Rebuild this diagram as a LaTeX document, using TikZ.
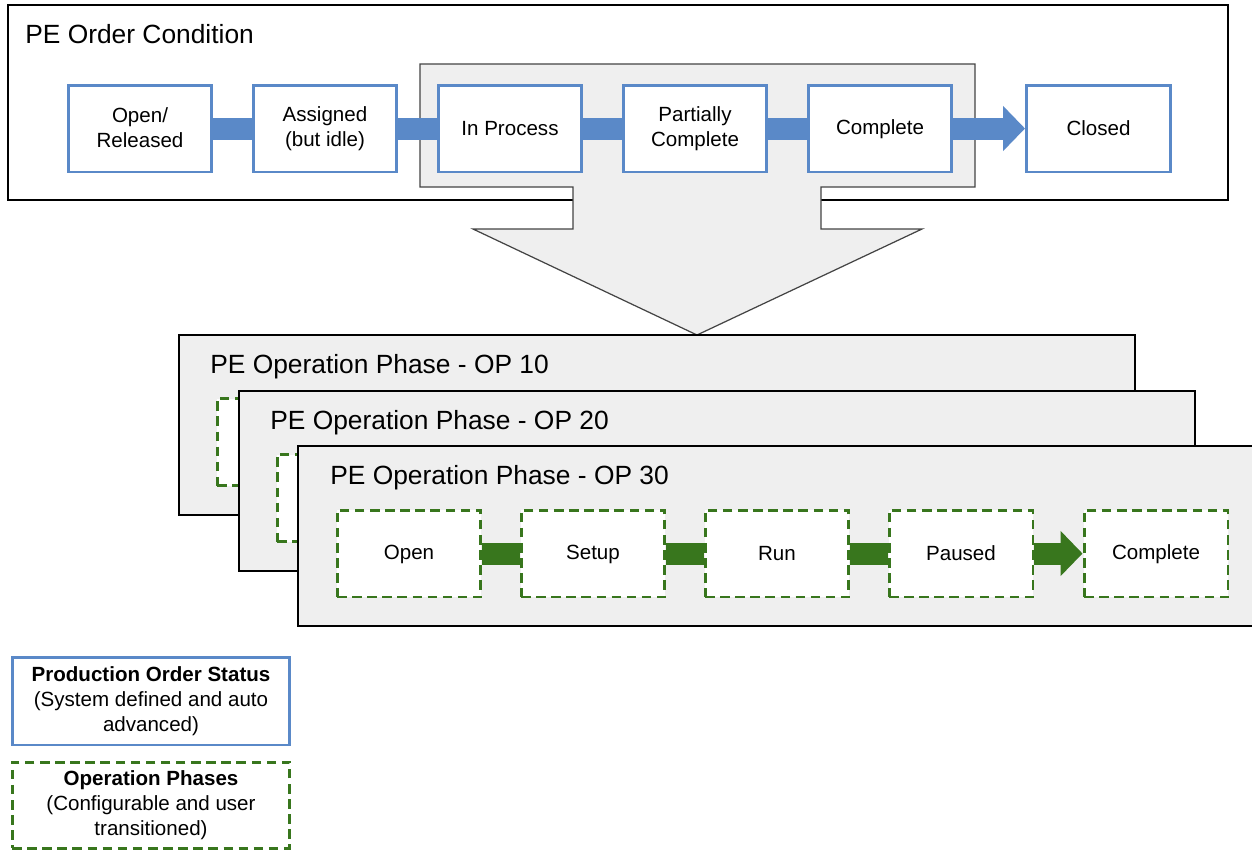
\documentclass[tikz,border=0pt]{standalone}
\usepackage{fontspec}
\setmainfont{Liberation Sans}
\usetikzlibrary{arrows.meta}
\definecolor{orderblue}{HTML}{5A89C8}
\definecolor{phasegreen}{HTML}{38761D}
\definecolor{framegray}{HTML}{EFEFEF}
\definecolor{edgegray}{HTML}{444444}
\newcommand{\boxstrut}{\rule[-0.6pt]{0pt}{9.6pt}}

\begin{document}
\begin{tikzpicture}[x=0.02cm, y=-0.02cm,
    statusbox/.style={draw=orderblue, line width=1.7pt, fill=white, inner sep=0pt,
      minimum width=2.88cm, minimum height=1.74cm, align=center,
      font=\fontsize{11.7}{14.2}\selectfont,
      execute at begin node={\boxstrut}, execute at end node={\boxstrut}},
    phasebox/.style={statusbox, draw=phasegreen, dash pattern=on 5.4pt off 3.2pt},
    bluebar/.style={draw=orderblue, line width=0.44cm},
    greenbar/.style={draw=phasegreen, line width=0.44cm},
    bigtip/.style={-{Triangle[length=0.44cm,width=0.88cm]}},
    frametitle/.style={anchor=base west, inner sep=0pt, font=\fontsize{15}{18}\selectfont},
    layer/.style={draw=black, line width=0.8pt, fill=framegray}]
  \useasboundingbox (0,0) rectangle (1252,850);

  % PE order condition frame
  \draw[line width=0.8pt, fill=white] (8,5) rectangle (1228,200);
  \node[frametitle] (ordertitle) at (25,43) {PE Order Condition};

  % Highlight with the big down arrow
  \draw[line width=0.7pt, draw=edgegray, fill=framegray]
    (420,64) -- (975,64) -- (975,187) -- (821,187) -- (821,229) -- (922,229)
    -- (697,335) -- (473,229) -- (573,229) -- (573,187) -- (420,187) -- cycle;

  % Order status boxes
  \node[statusbox] (released) at (140,128.5) {Open/\\Released};
  \node[statusbox] (assigned) at (325,128.5) {Assigned\\(but idle)};
  \node[statusbox] (inprocess) at (510,128.5) {In Process};
  \node[statusbox] (partial) at (695,128.5) {Partially\\Complete};
  \node[statusbox] (complete) at (880,128.5) {Complete};
  \node[statusbox] (closed) at (1098.5,128.5) {Closed};
  \draw[bluebar] (released) -- (assigned);
  \draw[bluebar] (assigned) -- (inprocess);
  \draw[bluebar] (inprocess) -- (partial);
  \draw[bluebar] (partial) -- (complete);
  \draw[bluebar, bigtip] (complete) -- (closed);

  % Operation phase - OP 10
  \draw[layer] (179,335) rectangle (1135,515);
  \node[frametitle] (op10title) at (210,373) {PE Operation Phase - OP 10};
  \node[phasebox] (op10open) at (289,442) {};

  % Operation phase - OP 20
  \draw[layer] (239,391) rectangle (1195,571);
  \node[frametitle] (op20title) at (270,429) {PE Operation Phase - OP 20};
  \node[phasebox] (op20open) at (349,498) {};

  % Operation phase - OP 30
  \draw[layer] (298,446) rectangle (1258,626);
  \node[frametitle] (op30title) at (330,484) {PE Operation Phase - OP 30};
  \node[phasebox] (open) at (409,553.5) {Open};
  \node[phasebox] (setup) at (593,553.5) {Setup};
  \node[phasebox] (run) at (777,553.5) {Run};
  \node[phasebox] (paused) at (961,553.5) {Paused};
  \node[phasebox] (phasedone) at (1156,553.5) {Complete};
  \draw[greenbar] (open) -- (setup);
  \draw[greenbar] (setup) -- (run);
  \draw[greenbar] (run) -- (paused);
  \draw[greenbar, bigtip] (paused) -- (phasedone);

  % Legend
  \node[statusbox, minimum width=5.56cm, minimum height=1.76cm] (statuskey) at (151,701)
    {\textbf{Production Order Status}\\(System defined and auto\\advanced)};
  \node[phasebox, minimum width=5.56cm, minimum height=1.72cm] (phasekey) at (151,805)
    {\textbf{Operation Phases}\\(Configurable and user\\transitioned)};
\end{tikzpicture}
\end{document}
